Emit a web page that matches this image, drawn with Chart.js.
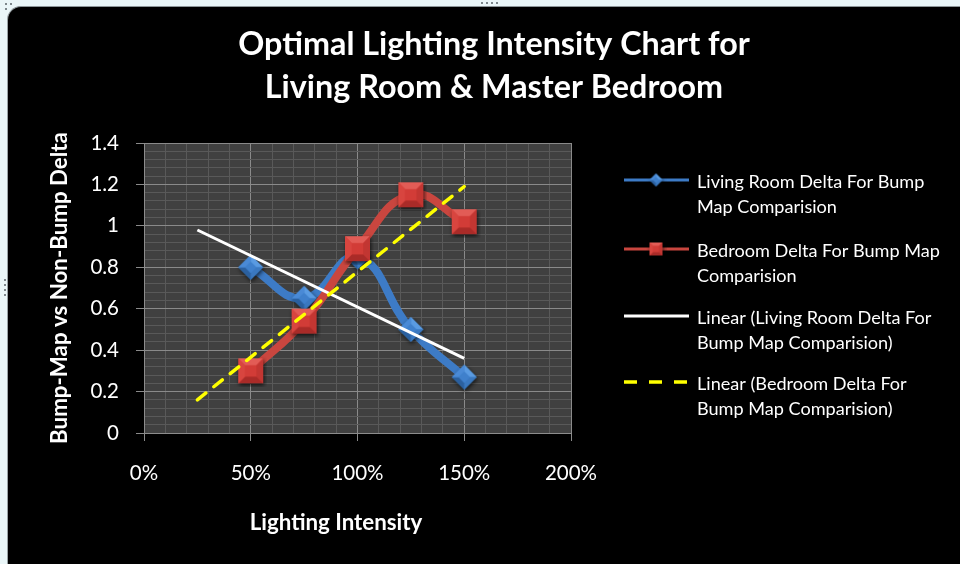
<!DOCTYPE html>
<html lang="en">
<head>
    <meta charset="UTF-8">
    <title>Optimal Lighting Intensity Chart</title>
    <script src="https://cdn.jsdelivr.net/npm/chart.js"></script>
    <style>
        html, body { margin: 0; padding: 0; background: #eaf6f8; }
        body { width: 960px; height: 564px; position: relative; overflow: hidden; }
        #frame {
            position: absolute; left: 7px; top: 6px; width: 970px; height: 580px;
            background: #000; border-left: 1px solid #9aa3a6; border-top: 1px solid #8d9699;
            border-top-left-radius: 14px;
        }
        #wrap { position: absolute; left: 0; top: 0; width: 960px; height: 564px; }
        .dot { position: absolute; width: 2px; height: 2px; background: #7d878b; }
    </style>
</head>
<body>
    <div id="frame"></div>
    <!-- resize handles of the chart object -->
    <div class="dot" style="left:481px;top:2px"></div>
    <div class="dot" style="left:486px;top:2px"></div>
    <div class="dot" style="left:491px;top:2px"></div>
    <div class="dot" style="left:496px;top:2px"></div>
    <div class="dot" style="left:4px;top:279px"></div>
    <div class="dot" style="left:4px;top:284px"></div>
    <div class="dot" style="left:4px;top:289px"></div>
    <div class="dot" style="left:4px;top:294px"></div>
    <div class="dot" style="left:5px;top:3px"></div>
    <div class="dot" style="left:10px;top:3px"></div>
    <div class="dot" style="left:5px;top:8px"></div>
    <div id="wrap"><canvas id="lightChart" width="960" height="564"></canvas></div>

    <script>
        // Data
        const intensity = [50, 75, 100, 125, 150];
        const livingRoom = [0.80, 0.65, 0.85, 0.50, 0.27];
        const bedroom = [0.30, 0.54, 0.89, 1.15, 1.02];
        // Linear trendlines (forecast back to 25%)
        const trendX = [25, 150];
        const livingTrend = [0.98, 0.36];
        const bedroomTrend = [0.16, 1.19];

        const titleLines = ['Optimal Lighting Intensity Chart for', 'Living Room & Master Bedroom'];
        const xTitle = 'Lighting Intensity';
        const yTitle = 'Bump-Map vs Non-Bump Delta';
        const legendLabels = [
            ['Living Room Delta For Bump', 'Map Comparision'],
            ['Bedroom Delta For Bump Map', 'Comparision'],
            ['Linear (Living Room Delta For', 'Bump Map Comparision)'],
            ['Linear (Bedroom Delta For', 'Bump Map Comparision)']
        ];

        const BLUE = '#3d7bc6';
        const RED = '#c9463f';
        const FONT = 'Lato';

        // size fonts so the text takes about the same width as in the picture
        const meas = document.createElement('canvas').getContext('2d');
        function fitSize(text, weight, target) {
            meas.font = `${weight} 100px ${FONT}`;
            return Math.round(1000 * target / meas.measureText(text).width) / 10;
        }
        const titleSize = fitSize(titleLines[0], 'bold', 512);
        const axisTitleSize = fitSize(yTitle, 'bold', 312);
        const tickSize = fitSize('100%', 'normal', 52);
        const legendSize = fitSize(legendLabels[0][0], 'normal', 228);

        // bevelled marker pictures
        function facetImage(size, kind, cols) {
            const pad = 4;
            const c = document.createElement('canvas');
            c.width = c.height = size + pad * 2;
            const g = c.getContext('2d');
            const m = c.width / 2, r = size / 2, ir = r * 0.45;
            let outer, inner;
            if (kind === 'diamond') {
                outer = [[m, m - r], [m + r, m], [m, m + r], [m - r, m]];
                inner = [[m, m - ir], [m + ir, m], [m, m + ir], [m - ir, m]];
            } else {
                outer = [[m - r, m - r], [m + r, m - r], [m + r, m + r], [m - r, m + r]];
                inner = [[m - ir, m - ir], [m + ir, m - ir], [m + ir, m + ir], [m - ir, m + ir]];
            }
            g.save();
            g.shadowColor = 'rgba(0,0,0,0.7)';
            g.shadowBlur = 4;
            g.shadowOffsetX = 1;
            g.shadowOffsetY = 2;
            g.beginPath();
            outer.forEach((p, i) => i ? g.lineTo(p[0], p[1]) : g.moveTo(p[0], p[1]));
            g.closePath();
            g.fillStyle = cols.base;
            g.fill();
            g.restore();
            for (let i = 0; i < 4; i++) {
                const a = outer[i], b = outer[(i + 1) % 4], ib = inner[(i + 1) % 4], ia = inner[i];
                g.beginPath();
                g.moveTo(a[0], a[1]); g.lineTo(b[0], b[1]); g.lineTo(ib[0], ib[1]); g.lineTo(ia[0], ia[1]);
                g.closePath();
                g.fillStyle = cols.facets[i];
                g.fill();
            }
            g.beginPath();
            inner.forEach((p, i) => i ? g.lineTo(p[0], p[1]) : g.moveTo(p[0], p[1]));
            g.closePath();
            g.fillStyle = cols.base;
            g.fill();
            return c;
        }
        const blueCols = { base: '#3f80cc', facets: ['#5a9be2', '#3a78c0', '#2b609f', '#4a8ad6'] };
        const redCols = { base: '#d23c37', facets: ['#e25c56', '#c23632', '#a92b28', '#d8453f'] };
        const diamondBig = facetImage(25, 'diamond', blueCols);
        const squareBig = facetImage(25, 'square', redCols);
        const diamondSmall = facetImage(13, 'diamond', blueCols);
        const squareSmall = facetImage(13, 'square', redCols);

        const toPoints = (xs, ys) => xs.map((x, i) => ({ x: x, y: ys[i] }));
        const isMajorY = v => Math.abs(v / 0.2 - Math.round(v / 0.2)) < 1e-6;

        // plot background, title, x title and legend
        const decor = {
            id: 'decor',
            beforeDraw(chart) {
                const { ctx, chartArea: a } = chart;
                ctx.save();
                ctx.fillStyle = '#404040';
                ctx.fillRect(a.left, a.top, a.right - a.left, a.bottom - a.top);
                ctx.restore();
            },
            afterDraw(chart) {
                const ctx = chart.ctx;
                ctx.save();
                ctx.fillStyle = '#ffffff';
                ctx.textBaseline = 'middle';
                ctx.textAlign = 'center';
                ctx.font = `bold ${titleSize}px ${FONT}`;
                ctx.fillText(titleLines[0], 494, 45);
                ctx.fillText(titleLines[1], 494, 88);
                ctx.font = `bold ${axisTitleSize}px ${FONT}`;
                ctx.fillText(xTitle, 336, 523);

                // legend
                const rows = [180, 249, 316, 382];
                const styles = [
                    { color: BLUE, width: 3, dash: [], img: diamondSmall },
                    { color: RED, width: 3, dash: [], img: squareSmall },
                    { color: '#ffffff', width: 3, dash: [], img: null },
                    { color: '#ffff00', width: 3.5, dash: [13, 12], img: null }
                ];
                ctx.textAlign = 'left';
                ctx.font = `${legendSize}px ${FONT}`;
                rows.forEach((y, i) => {
                    const s = styles[i];
                    ctx.save();
                    ctx.strokeStyle = s.color;
                    ctx.lineWidth = s.width;
                    ctx.setLineDash(s.dash);
                    ctx.beginPath();
                    ctx.moveTo(624, y);
                    ctx.lineTo(689, y);
                    ctx.stroke();
                    ctx.restore();
                    if (s.img) ctx.drawImage(s.img, 656 - s.img.width / 2, y - s.img.height / 2);
                    ctx.fillText(legendLabels[i][0], 697, y + 2);
                    ctx.fillText(legendLabels[i][1], 697, y + 27);
                });
                ctx.restore();
            }
        };

        const chart = new Chart(document.getElementById('lightChart'), {
            type: 'line',
            data: {
                datasets: [
                    {
                        label: legendLabels[0].join(' '),
                        data: toPoints(intensity, livingRoom),
                        borderColor: BLUE,
                        backgroundColor: BLUE,
                        borderWidth: 8,
                        tension: 0.45,
                        pointStyle: diamondBig,
                        pointRadius: 12,
                        order: 4
                    },
                    {
                        label: legendLabels[1].join(' '),
                        data: toPoints(intensity, bedroom),
                        borderColor: RED,
                        backgroundColor: RED,
                        borderWidth: 8,
                        tension: 0.45,
                        pointStyle: squareBig,
                        pointRadius: 12,
                        order: 3
                    },
                    {
                        label: legendLabels[2].join(' '),
                        data: toPoints(trendX, livingTrend),
                        borderColor: '#ffffff',
                        borderWidth: 3,
                        pointRadius: 0,
                        order: 2
                    },
                    {
                        label: legendLabels[3].join(' '),
                        data: toPoints(trendX, bedroomTrend),
                        borderColor: '#ffff00',
                        borderWidth: 3.5,
                        borderDash: [11, 10],
                        borderCapStyle: 'round',
                        pointRadius: 0,
                        order: 1
                    }
                ]
            },
            options: {
                responsive: false,
                animation: false,
                layout: { padding: { left: 0, right: 389, top: 143, bottom: 0 } },
                plugins: {
                    legend: { display: false },
                    title: { display: false },
                    tooltip: { enabled: false }
                },
                scales: {
                    x: {
                        type: 'linear',
                        min: 0,
                        max: 200,
                        afterFit: s => { s.height = 131; },
                        border: { color: '#8c8c8c' },
                        grid: {
                            color: c => (c.tick && c.tick.value % 50 === 0) ? '#8a8a8a' : '#595959',
                            tickColor: c => (c.tick && c.tick.value % 50 === 0) ? '#8a8a8a' : 'rgba(0,0,0,0)',
                            tickLength: 8
                        },
                        ticks: {
                            stepSize: 10,
                            autoSkip: false,
                            maxRotation: 0,
                            padding: 20,
                            color: '#ffffff',
                            font: { family: FONT, size: tickSize },
                            callback: v => v % 50 === 0 ? v + '%' : ''
                        }
                    },
                    y: {
                        min: 0,
                        max: 1.4,
                        afterFit: s => { s.width = 144; },
                        border: { color: '#8c8c8c' },
                        grid: {
                            color: c => (c.tick && isMajorY(c.tick.value)) ? '#8a8a8a' : '#595959',
                            tickColor: c => (c.tick && isMajorY(c.tick.value)) ? '#8a8a8a' : 'rgba(0,0,0,0)',
                            tickLength: 8
                        },
                        ticks: {
                            stepSize: 0.04,
                            autoSkip: false,
                            padding: 17,
                            color: '#ffffff',
                            font: { family: FONT, size: tickSize },
                            callback: v => isMajorY(v) ? String(Math.round(v * 10) / 10) : ''
                        },
                        title: {
                            display: true,
                            text: yTitle,
                            color: '#ffffff',
                            font: { family: FONT, size: axisTitleSize, weight: 'bold' },
                            padding: { top: 60 - axisTitleSize * 0.6, bottom: 0 }
                        }
                    }
                }
            },
            plugins: [decor]
        });
    </script>
</body>
</html>
